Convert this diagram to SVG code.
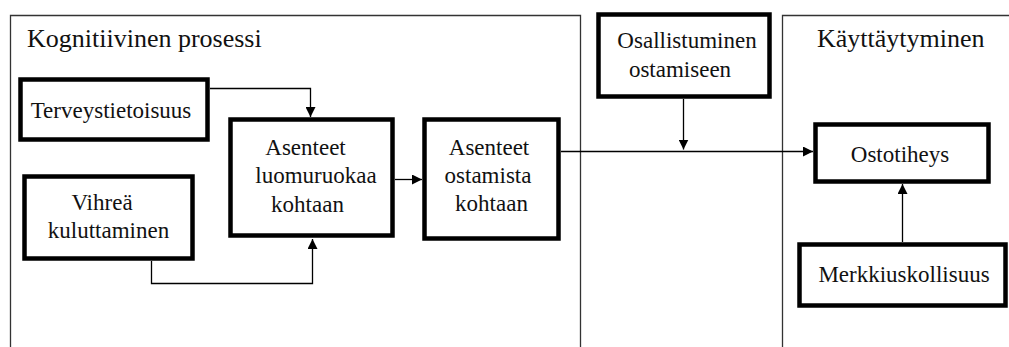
<svg xmlns="http://www.w3.org/2000/svg" width="1009" height="347" viewBox="0 0 1009 347">
<style>
.frame{fill:none;stroke:#333;stroke-width:1.3}
.box{fill:#fff;stroke:#000;stroke-width:4.5}
.t{font-size:23px;fill:#111;text-anchor:middle}
.title{font-size:26px;fill:#111}
.c{fill:none;stroke:#000;stroke-width:1.3}
</style>
<defs>
<marker id="ah" viewBox="0 0 10 10" refX="10" refY="5" markerWidth="10" markerHeight="10" markerUnits="userSpaceOnUse" orient="auto">
<path d="M0,0 L10,5 L0,10 Z" fill="#000"/>
</marker>
</defs>
<g font-family="'Liberation Serif', 'DejaVu Serif', 'Times New Roman', serif">
<g id="kognitiivinen-prosessi">
<path class="frame" d="M10.5,360 V15.5 H580.5 V360"/>
<text class="title" x="27" y="47">Kognitiivinen prosessi</text>
</g>
<g id="kayttaytyminen">
<path class="frame" d="M782.5,360 V15.5 H1015"/>
<text class="title" x="817" y="47">Käyttäytyminen</text>
</g>
<g id="connectors">
<path class="c" d="M210,88.5 H310.5 V117" marker-end="url(#ah)"/>
<path class="c" d="M151.5,261 V283.5 H312.5 V239" marker-end="url(#ah)"/>
<path class="c" d="M395,179.5 H422" marker-end="url(#ah)"/>
<path class="c" d="M561,151.5 H813" marker-end="url(#ah)"/>
<path class="c" d="M683.5,99 V149.5" marker-end="url(#ah)"/>
<path class="c" d="M902.5,242 V184" marker-end="url(#ah)"/>
</g>
<g id="terveystietoisuus">
<rect class="box" x="20.5" y="79.5" width="187" height="60"/>
<text class="t" x="111" y="118">Terveystietoisuus</text>
</g>
<g id="vihrea-kuluttaminen">
<rect class="box" x="24.5" y="176.5" width="168" height="82"/>
<text class="t" x="102" y="210">Vihreä</text>
<text class="t" x="108.5" y="238">kuluttaminen</text>
</g>
<g id="asenteet-luomuruokaa">
<rect class="box" x="230.5" y="119.5" width="162" height="116"/>
<text class="t" x="305.5" y="155">Asenteet</text>
<text class="t" x="316" y="183">luomuruokaa</text>
<text class="t" x="307.5" y="212">kohtaan</text>
</g>
<g id="asenteet-ostamista">
<rect class="box" x="424.5" y="119.5" width="134" height="119"/>
<text class="t" x="489" y="155">Asenteet</text>
<text class="t" x="488" y="183">ostamista</text>
<text class="t" x="491.5" y="211">kohtaan</text>
</g>
<g id="osallistuminen">
<rect class="box" x="598.5" y="14.5" width="171" height="82"/>
<text class="t" x="687" y="48">Osallistuminen</text>
<text class="t" x="680" y="77">ostamiseen</text>
</g>
<g id="ostotiheys">
<rect class="box" x="815.5" y="124.5" width="173" height="57"/>
<text class="t" x="900" y="162">Ostotiheys</text>
</g>
<g id="merkkiuskollisuus">
<rect class="box" x="799.5" y="244.5" width="206" height="61"/>
<text class="t" x="904" y="282">Merkkiuskollisuus</text>
</g>
</g>
</svg>
